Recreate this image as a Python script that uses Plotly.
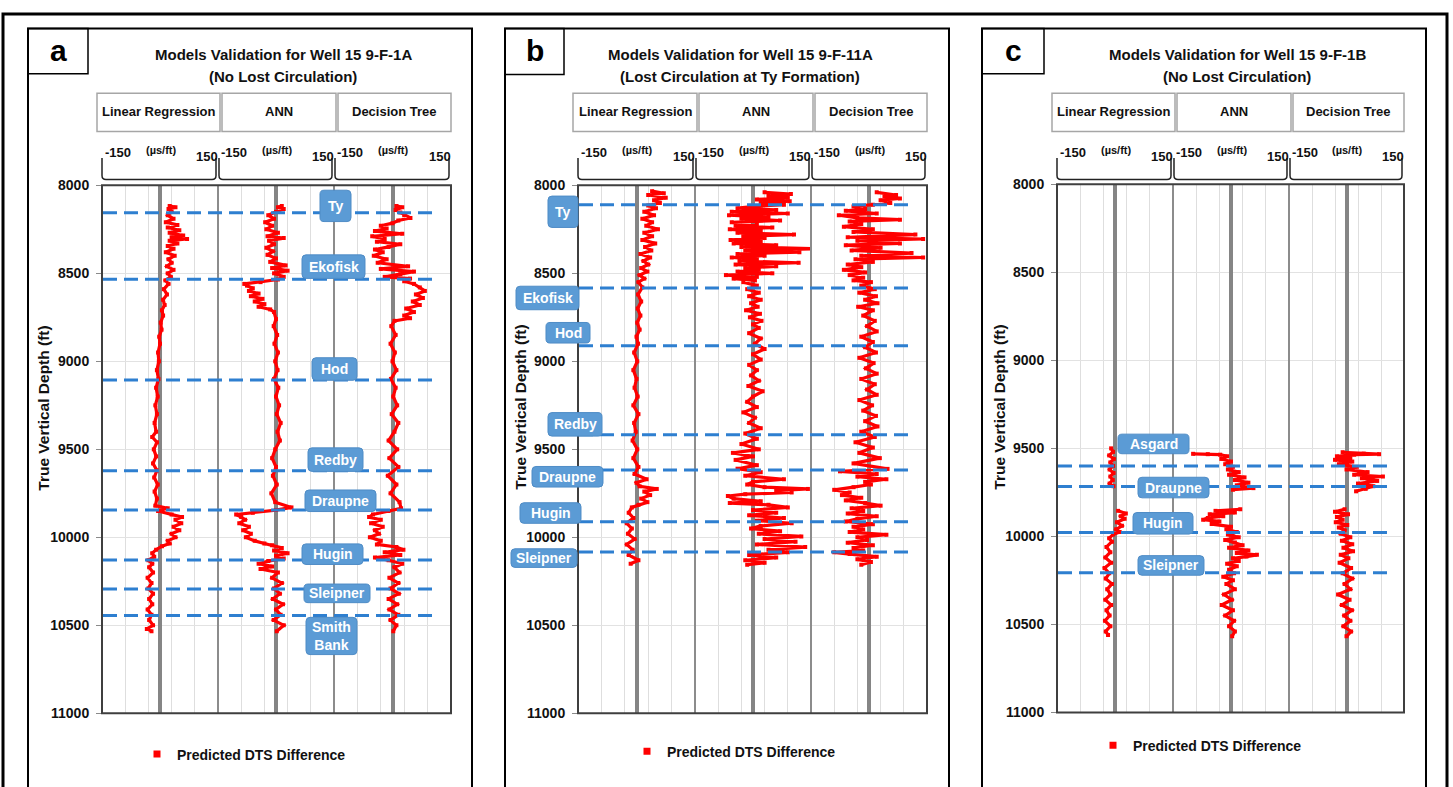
import plotly.graph_objects as go

# ---------------------------------------------------------------- data
MODELS = ["Linear Regression", "ANN", "Decision Tree"]
SCALE_MIN, SCALE_MAX = -150, 150
DEPTH_TICKS = [8000, 8500, 9000, 9500, 10000, 10500, 11000]
DEPTH_RANGE = [11000, 8000]
UNIT = "(µs/ft)"
LEGEND_NAME = "Predicted DTS Difference"
Y_TITLE = "True Vertical Depth (ft)"

TITLE_A = ["Models Validation for Well 15 9-F-1A", "(No Lost Circulation)"]
TITLE_B = ["Models Validation for Well 15 9-F-11A", "(Lost Circulation at Ty Formation)"]
TITLE_C = ["Models Validation for Well 15 9-F-1B", "(No Lost Circulation)"]

# formation tops (ft TVD)
TOPS_A_NAMES = ["Ty", "Ekofisk", "Hod", "Redby", "Draupne", "Hugin", "Sleipner", "Smith<br>Bank"]
TOPS_A_DEPTH = [8156, 8533, 9106, 9622, 9844, 10128, 10294, 10444]
TOPS_B_NAMES = ["Ty", "Ekofisk", "Hod", "Redby", "Draupne", "Hugin", "Sleipner"]
TOPS_B_DEPTH = [8111, 8583, 8911, 9417, 9617, 9911, 10083]
TOPS_C_NAMES = ["Asgard", "Draupne", "Hugin", "Sleipner"]
TOPS_C_DEPTH = [9600, 9717, 9978, 10206]

# predicted DTS difference, (depth ft, difference µs/ft); None breaks the log
A_LR = [(8117, 25), (8125, 40), (8135, 22), (8150, 30), (8170, 20), (8190, 35), (8210, 15),
        (8225, 45), (8240, 20), (8255, 50), (8270, 25), (8285, 60), (8295, 30), (8305, 70),
        (8315, 25), (8330, 45), (8345, 20), (8360, 35), (8380, 15), (8400, 38), (8420, 22),
        (8440, 30), (8460, 18), (8480, 35), (8500, 20), (8520, 28), (8540, 14), (8560, 22),
        (8590, 10), (8620, 18), (8650, 8), (8680, 12), (8710, 5), (8740, 8), (8780, 2),
        (8820, 4), (8860, -2), (8900, 0), (8950, -5), (9000, -3), (9050, -8), (9100, -4),
        (9150, -10), (9200, -6), (9250, -12), (9300, -8), (9350, -14), (9400, -10), (9430, -20),
        (9460, -8), (9500, -16), (9540, -10), (9580, -18), (9620, -8), (9660, -15), (9700, -6),
        (9740, -14), (9780, -8), (9820, -12), (9835, 20), (9850, -5), (9870, 30), (9885, 57),
        (9900, 40), (9920, 55), (9940, 35), (9960, 50), (9980, 30), (10000, 40), (10020, 20),
        (10035, 25), (10050, 5), (10070, -10), (10090, -20), (10110, -15), (10130, -30),
        (10150, -20), (10170, -28), (10200, -18), (10230, -32), (10260, -22), (10290, -30),
        (10320, -18), (10350, -28), (10380, -20), (10410, -32), (10440, -22), (10470, -28),
        (10500, -18), (10520, -34), (10533, -22)]
A_ANN = [(8117, 15), (8125, 5), (8135, 20), (8150, 0), (8170, -20), (8190, -5), (8210, -28),
         (8230, -10), (8250, -25), (8270, 5), (8290, -22), (8300, 20), (8315, -18), (8335, -5),
         (8355, -25), (8375, -8), (8395, -22), (8415, 0), (8435, -15), (8455, 25), (8470, -10),
         (8485, 30), (8500, -5), (8520, 20), (8535, 5), (8550, -40), (8560, -82), (8570, -75),
         (8585, -60), (8600, -70), (8615, -45), (8630, -65), (8645, -35), (8660, -55),
         (8675, -30), (8690, -45), (8705, -15), (8720, -5), (8760, 0), (8800, -6), (8850, 3),
         (8900, -4), (8950, 5), (9000, -2), (9050, 4), (9100, -5), (9150, 6), (9200, 0),
         (9250, 8), (9300, 2), (9350, 12), (9400, 4), (9450, 10), (9500, -2), (9550, -10),
         (9600, 0), (9650, -8), (9700, 2), (9750, -12), (9800, -2), (9830, 40), (9845, 0),
         (9860, -60), (9870, -103), (9885, -90), (9900, -80), (9920, -95), (9940, -70),
         (9960, -85), (9980, -65), (10000, -78), (10020, -55), (10035, -30), (10045, -10),
         (10060, 15), (10075, -5), (10090, 30), (10105, 0), (10120, 20), (10135, -20),
         (10150, -45), (10165, -10), (10180, -40), (10200, 5), (10230, -10), (10260, 15),
         (10290, -5), (10320, 10), (10350, -8), (10380, 18), (10410, 0), (10440, 12),
         (10470, -6), (10500, 20), (10533, 2)]
A_DT = [(8117, 10), (8125, 25), (8140, 8), (8155, 20), (8170, 30), (8185, 46), (8200, 15),
        (8215, 0), (8230, -30), (8245, -15), (8260, -45), (8275, 25), (8290, -52), (8305, -20),
        (8320, -40), (8335, 20), (8350, -10), (8365, -45), (8380, -25), (8400, -48), (8420, -15),
        (8440, -38), (8460, 40), (8475, -30), (8490, 55), (8505, 20), (8520, -20), (8530, 45),
        (8545, 30), (8560, 55), (8580, 70), (8600, 83), (8620, 60), (8640, 78), (8660, 52),
        (8680, 70), (8700, 35), (8720, 55), (8740, 30), (8755, 45), (8770, 5), (8800, -3),
        (8850, 8), (8900, -5), (8950, 6), (9000, 0), (9050, 10), (9100, -4), (9150, 8),
        (9200, 2), (9250, 12), (9300, -2), (9350, 15), (9400, 5), (9450, -10), (9500, 12),
        (9550, -8), (9600, 15), (9650, -12), (9700, 10), (9750, -5), (9800, 18), (9835, 22),
        (9850, -10), (9870, -50), (9885, -60), (9900, -30), (9920, -55), (9940, -25),
        (9960, -45), (9980, -35), (10000, -58), (10020, -30), (10040, -40), (10055, 10),
        (10070, 28), (10085, -20), (10100, 20), (10115, -45), (10130, -10), (10150, 25),
        (10170, 5), (10200, 18), (10230, -8), (10260, 15), (10290, -5), (10320, 16),
        (10350, -10), (10380, 12), (10410, -8), (10440, 15), (10470, -5), (10500, 10),
        (10533, 2)]

B_LR = [(8033, 40), (8045, 70), (8055, 30), (8070, 75), (8085, 45), (8100, 60), (8115, 30),
        (8130, 50), (8150, 20), (8170, 45), (8190, 15), (8210, 40), (8230, 25), (8250, 55),
        (8270, 20), (8290, 40), (8310, 15), (8330, 48), (8350, 22), (8370, 38), (8390, 10),
        (8410, 35), (8430, 18), (8450, 30), (8470, 12), (8490, 28), (8510, 8), (8530, 20),
        (8550, 5), (8580, 15), (8620, 4), (8660, 12), (8700, 3), (8740, 10), (8780, 2),
        (8820, 8), (8860, 0), (8900, 4), (8950, -6), (9000, 2), (9050, -8), (9100, 0),
        (9150, -5), (9200, 3), (9250, -8), (9300, 5), (9350, -6), (9400, -2), (9450, -10),
        (9500, 2), (9550, -8), (9600, 5), (9640, -5), (9670, 26), (9690, 0), (9710, 8),
        (9725, 52), (9740, 20), (9760, 35), (9780, 12), (9800, 28), (9815, 5), (9830, -12),
        (9860, -20), (9890, -8), (9920, -25), (9950, -12), (9980, -22), (10010, -5),
        (10040, -25), (10070, -10), (10100, -20), (10130, 5), (10150, -15)]
B_ANN = [(8040, 30), (8050, 98), (8060, 40), (8070, 90), (8080, 10), (8090, 95), (8100, 20),
         (8110, 80), (8120, 5), (8130, -40), (8140, 60), (8150, -55), (8160, 90), (8170, -62),
         (8180, 40), (8190, -30), (8200, 70), (8210, -55), (8220, 10), (8230, -45), (8240, 50),
         (8250, -60), (8260, 20), (8270, -40), (8280, 106), (8290, -25), (8300, 30),
         (8310, -58), (8320, 20), (8330, -50), (8340, 60), (8350, -30), (8360, 160),
         (8370, -20), (8380, 120), (8390, -40), (8400, 30), (8410, -55), (8420, 10),
         (8430, -35), (8440, 118), (8450, -45), (8460, 60), (8470, -20), (8480, 15),
         (8490, -40), (8500, 50), (8510, -70), (8520, 10), (8530, -50), (8540, 5), (8550, -25),
         (8570, 10), (8590, -15), (8610, 15), (8630, -10), (8650, 20), (8670, -5), (8690, 12),
         (8710, -18), (8730, 18), (8750, -8), (8770, 22), (8790, 0), (8810, 15), (8840, -10),
         (8870, 20), (8900, 5), (8930, 30), (8960, 0), (8990, 20), (9020, -10), (9050, 10),
         (9080, -5), (9110, 15), (9140, -12), (9170, 25), (9200, 0), (9230, -15), (9260, 10),
         (9290, -25), (9320, 5), (9350, -10), (9380, 20), (9410, -20), (9440, 10), (9470, -30),
         (9500, 15), (9520, -52), (9540, 0), (9560, -45), (9590, 10), (9610, -40), (9630, 20),
         (9650, -20), (9670, 80), (9685, 0), (9700, -15), (9715, 30), (9725, 142), (9735, 60),
         (9745, 100), (9755, -20), (9765, -65), (9780, -50), (9795, 20), (9805, -60),
         (9815, 40), (9830, 90), (9845, 0), (9860, 60), (9875, -10), (9890, 80), (9905, 10),
         (9920, 100), (9935, 20), (9950, -5), (9965, 70), (9980, 15), (9995, 125),
         (10010, 30), (10025, 110), (10040, 10), (10055, 135), (10070, 40), (10085, 90),
         (10100, -10), (10115, 60), (10130, -20), (10145, 30), (10155, -15)]
B_DT = [(8040, 20), (8055, 70), (8065, 40), (8075, 80), (8085, 30), (8100, 55), (8110, 10),
        (8120, -40), (8135, -10), (8145, -60), (8160, 20), (8170, -78), (8185, -30), (8195, 80),
        (8205, -50), (8220, -20), (8235, -65), (8250, 10), (8265, -40), (8280, 120),
        (8295, -55), (8305, 140), (8315, -30), (8330, 80), (8340, -60), (8355, 30), (8370, -45),
        (8385, 110), (8400, -20), (8410, 140), (8420, -35), (8435, 10), (8450, -55),
        (8465, -20), (8480, -65), (8495, -10), (8510, -50), (8525, -15), (8540, -40),
        (8550, 5), (8570, -20), (8590, 15), (8610, -25), (8630, 18), (8650, -10), (8670, 22),
        (8690, -28), (8710, 10), (8740, -15), (8770, 15), (8800, -5), (8830, 20), (8860, -20),
        (8890, 10), (8920, -10), (8950, 18), (8980, -25), (9010, 12), (9040, -8), (9070, 20),
        (9100, -20), (9130, 15), (9160, -5), (9190, 20), (9220, -25), (9250, 8), (9280, -15),
        (9310, 18), (9340, -10), (9370, 22), (9400, -20), (9430, 15), (9460, -35), (9490, 10),
        (9520, -25), (9550, 28), (9580, -40), (9611, 48), (9625, -75), (9640, 20), (9655, -30),
        (9670, 45), (9685, -10), (9700, 5), (9715, -40), (9730, -90), (9745, -50), (9760, -70),
        (9775, -20), (9790, -60), (9805, -10), (9820, 30), (9835, -45), (9850, -15),
        (9865, -55), (9880, 20), (9895, -30), (9910, -60), (9925, 10), (9940, -40),
        (9955, -15), (9970, -50), (9985, 45), (10000, -30), (10015, -5), (10030, -55),
        (10045, 10), (10060, -40), (10075, -15), (10085, -90), (10095, -50), (10110, 20),
        (10125, -30), (10140, 5), (10155, -20)]

C_LR = [(9500, -10), (9520, -5), (9540, -15), (9560, -3), (9580, -12), (9600, -5), (9620, -14),
        (9640, -4), (9660, -12), (9680, -6), (9700, -14), (9715, -4), (None, None),
        (9855, 8), (9870, 28), (9885, 15), (9900, 25), (9920, 5), (9940, 18), (9960, 3),
        (9975, 12), (9990, -5), (10010, -15), (10030, -8), (10060, -22), (10090, -12),
        (10120, -25), (10150, -10), (10180, -27), (10210, -15), (10240, -24), (10270, -8),
        (10300, -20), (10330, -12), (10360, -25), (10390, -10), (10420, -22), (10450, -14),
        (10480, -26), (10510, -12), (10540, -24), (10560, -18)]
C_ANN = [(9531, -98), (9533, -60), (9536, -28), (9545, -10), (9560, -25), (9575, 0), (9590, -15),
         (9605, 5), (9620, -8), (9635, 20), (9650, -5), (9665, 35), (9680, 10), (9695, 45),
         (9710, 15), (9726, 58), (9735, 5), (None, None),
         (9846, 24), (9855, -40), (9865, 10), (9875, -55), (9885, -20), (9895, -60),
         (9905, -72), (9915, -30), (9930, -50), (9945, 0), (9960, -12), (9975, 15), (9990, -8),
         (10005, 20), (10020, -15), (10035, 10), (10050, 30), (10065, -5), (10080, 45),
         (10095, 15), (10105, 67), (10115, 40), (10125, 5), (10140, 20), (10155, -10),
         (10170, 15), (10190, -5), (10210, 8), (10230, -20), (10250, 5), (10270, -12),
         (10300, 10), (10330, -18), (10360, 2), (10390, -24), (10420, 5), (10450, -15),
         (10480, 8), (10510, -5), (10540, 10), (10568, 3)]
C_DT = [(9522, -10), (9530, 45), (9533, 85), (9536, 20), (9545, -25), (9555, 10), (9565, -30),
        (9575, 15), (9590, -20), (9605, 27), (9620, 0), (9635, 55), (9650, 20), (9660, 95),
        (9670, 40), (9685, 80), (9700, 30), (9715, 70), (9730, 50), (9744, 25), (None, None),
        (9846, -5), (9860, -30), (9875, 4), (9890, -25), (9905, -10), (9920, -28), (9935, 2),
        (9950, -20), (9965, -5), (9985, -15), (10005, 10), (10025, -12), (10045, 15),
        (10065, -8), (10085, 17), (10105, -15), (10125, 5), (10150, -18), (10180, 12),
        (10210, -10), (10240, 15), (10270, -5), (10300, 10), (10330, -22), (10360, 8),
        (10390, -12), (10420, 14), (10450, -6), (10480, 10), (10510, -8), (10540, 12),
        (10568, 0)]

# ---------------------------------------------------------------- layout geometry (px)
W, H = 1453, 787
FONT = "Liberation Sans Narrow, Arial Narrow, Liberation Sans, Arial, sans-serif"
WIDE_FONT = "Liberation Sans, Arial, sans-serif"
INK = "#111111"
RED = "#ff0000"
TOP_BLUE = "#2e7fd0"
BOX_BLUE = "#5b9bd5"

PANELS = [
    dict(tag="a", title=TITLE_A, tops=(TOPS_A_NAMES, TOPS_A_DEPTH), logs=[A_LR, A_ANN, A_DT],
         frame=(28, 21, 472), tagbox=(28, 21, 88, 67), title_x=283,
         tracks=[102, 218, 334, 451], top=181, bottom=720, ytitle=(44, 409), legend=(137, 762),
         boxes=[(320, 186, 351, 218), (302, 252, 365, 276), (312, 357, 357, 380),
                (308, 449, 363, 473), (305, 492, 376, 514), (302, 547, 363, 568),
                (304, 588, 370, 607), (306, 622, 357, 660)]),
    dict(tag="b", title=TITLE_B, tops=(TOPS_B_NAMES, TOPS_B_DEPTH), logs=[B_LR, B_ANN, B_DT],
         frame=(505, 21, 949), tagbox=(505, 21, 564, 68), title_x=740,
         tracks=[578, 695, 811, 927], top=181, bottom=720, ytitle=(521, 408), legend=(627, 759),
         boxes=[(548, 192, 578, 224), (516, 284, 579, 308), (546, 321, 590, 342),
                (548, 413, 602, 437), (532, 468, 603, 489), (520, 505, 581, 526),
                (511, 552, 577, 571)]),
    dict(tag="c", title=TITLE_C, tops=(TOPS_C_NAMES, TOPS_C_DEPTH), logs=[C_LR, C_ANN, C_DT],
         frame=(982, 21, 1426), tagbox=(982, 21, 1044, 67), title_x=1237,
         tracks=[1057, 1173, 1289, 1404], top=180, bottom=719, ytitle=(1000, 408), legend=(1093, 753),
         boxes=[(1118, 435, 1189, 455), (1138, 479, 1209, 500), (1133, 515, 1193, 537),
                (1138, 559, 1204, 579)]),
]


def fx(x):
    return x / W


def fy(y):
    return 1 - y / H


def P(x, y):
    return f"{fx(x):.5f},{fy(y):.5f}"


def rounded_rect(x0, y0, x1, y1, r):
    return (f"M {P(x0 + r, y0)} L {P(x1 - r, y0)} Q {P(x1, y0)} {P(x1, y0 + r)} "
            f"L {P(x1, y1 - r)} Q {P(x1, y1)} {P(x1 - r, y1)} L {P(x0 + r, y1)} "
            f"Q {P(x0, y1)} {P(x0, y1 - r)} L {P(x0, y0 + r)} Q {P(x0, y0)} {P(x0 + r, y0)} Z")


def bracket(x0, x1, y0, y1, r=4):
    return (f"M {P(x0, y0)} L {P(x0, y1 - r)} Q {P(x0, y1)} {P(x0 + r, y1)} "
            f"L {P(x1 - r, y1)} Q {P(x1, y1)} {P(x1, y1 - r)} L {P(x1, y0)}")


def font(size, color=INK, family=FONT):
    return dict(family=family, size=size, color=color, weight="bold")


def label(text, x, y, size, color=INK, family=FONT, **kw):
    return dict(text=text, xref="paper", yref="paper", x=fx(x), y=fy(y), xanchor="center",
                yanchor="middle", showarrow=False, font=font(size, color, family), **kw)


def paper_rect(x0, y0, x1, y1, color, width, fill=None):
    return dict(type="rect", xref="paper", yref="paper", x0=fx(x0), x1=fx(x1), y0=fy(y1), y1=fy(y0),
                line=dict(color=color, width=width), fillcolor=fill or "rgba(0,0,0,0)", layer="above")


def paper_line(x0, y0, x1, y1, color, width):
    return dict(type="line", xref="paper", yref="paper", x0=fx(x0), x1=fx(x1), y0=fy(y0), y1=fy(y1),
                line=dict(color=color, width=width), layer="above")


fig = go.Figure()
shapes, annotations, layout = [], [], {}

# outer figure frame
shapes.append(paper_rect(3, 6, 1447, 830, "#000000", 3))

for p, panel in enumerate(PANELS):
    tr = panel["tracks"]
    top, bottom = panel["top"], panel["bottom"]
    fl, ft, fr = panel["frame"]

    # panel frame and tag box
    shapes.append(paper_rect(fl, ft, fr, 830, "#000000", 2))
    tx0, ty0, tx1, ty1 = panel["tagbox"]
    shapes.append(paper_rect(tx0, ty0, tx1, ty1, "#000000", 1.5))
    annotations.append(label(panel["tag"], (tx0 + tx1) / 2, (ty0 + ty1) / 2 - 1, 30, "#000000"))

    # two-line title
    annotations.append(label(panel["title"][0], panel["title_x"], 47, 15))
    annotations.append(label(panel["title"][1], panel["title_x"], 70, 15))

    for t in range(3):
        k = 3 * p + t + 1
        xa = "xaxis" if k == 1 else f"xaxis{k}"
        ya = "yaxis" if k == 1 else f"yaxis{k}"
        xr = "x" if k == 1 else f"x{k}"
        yr = "y" if k == 1 else f"y{k}"
        L, R = tr[t], tr[t + 1]

        layout[xa] = dict(domain=[fx(L), fx(R)], range=[SCALE_MIN, SCALE_MAX], anchor=yr,
                          tick0=SCALE_MIN, dtick=60, showgrid=True, gridcolor="#dedede", gridwidth=1,
                          zeroline=True, zerolinecolor="#858585", zerolinewidth=4,
                          showticklabels=False, ticks="", showline=False, fixedrange=True)
        layout[ya] = dict(domain=[fy(bottom), fy(top)], range=DEPTH_RANGE, anchor=xr,
                          tickvals=DEPTH_TICKS, ticktext=[str(v) for v in DEPTH_TICKS],
                          showgrid=True, gridcolor="#e2e2e2", gridwidth=1,
                          zeroline=False, showline=False, fixedrange=True,
                          showticklabels=(t == 0), ticks="outside" if t == 0 else "",
                          ticklen=5, tickcolor="#8a8a8a", tickfont=font(14),
                          ticklabelstandoff=4)

        # model header box
        hx0 = L - 5 if t == 0 else L + 4
        hx1 = R + 2 if t < 2 else R
        shapes.append(paper_rect(hx0, 87, hx1, 126, "#a6a6a6", 1.5))
        annotations.append(label(MODELS[t], (hx0 + hx1) / 2, 106, 13))

        # scale bracket and its labels
        shapes.append(dict(type="path", xref="paper", yref="paper",
                           path=bracket(L + 1 if t else L, R - 2, 153, 175),
                           line=dict(color="#222222", width=1.5)))
        zero_x = L + (R - L) * (0 - SCALE_MIN) / (SCALE_MAX - SCALE_MIN)
        annotations.append(label(str(SCALE_MIN), L + 16, 148, 13))
        annotations.append(label(str(SCALE_MAX), R - 11, 152, 13))
        annotations.append(label(UNIT, zero_x + 1, 145, 11))

        # predicted DTS difference log
        log = panel["logs"][t]
        depth = [d for d, _ in log]
        diff = [v for _, v in log]
        fig.add_trace(go.Scatter(x=diff, y=depth, xaxis=xr, yaxis=yr, mode="lines+markers",
                                 line=dict(color=RED, width=3.2),
                                 marker=dict(symbol="square", size=4, color=RED),
                                 showlegend=False, hoverinfo="x+y", connectgaps=False))

        # track separators
        if t > 0:
            shapes.append(paper_line(L, top, L, bottom, "#8c8c8c", 2))

    # plot border
    shapes.append(paper_rect(tr[0], top, tr[3], bottom, "#3f3f3f", 2))

    # formation tops: dashed lines then labels on top
    yref_first = "y" if p == 0 else f"y{3 * p + 1}"
    names, depths = panel["tops"]
    for d in depths:
        shapes.append(dict(type="line", xref="paper", yref=yref_first, x0=fx(tr[0] + 1), x1=fx(tr[3] - 12),
                           y0=d, y1=d, line=dict(color=TOP_BLUE, width=3, dash="14px,7px"), layer="above"))
    for name, box in zip(names, panel["boxes"]):
        bx0, by0, bx1, by1 = box
        shapes.append(dict(type="path", xref="paper", yref="paper", path=rounded_rect(bx0, by0, bx1, by1, 4),
                           fillcolor=BOX_BLUE, line=dict(color="#4f8cc6", width=1), layer="above"))
        annotations.append(label(name, (bx0 + bx1) / 2, (by0 + by1) / 2, 14, "#ffffff"))

    # depth axis title
    yx, yy = panel["ytitle"]
    annotations.append(label(Y_TITLE, yx, yy, 15.5, INK, WIDE_FONT, textangle=-90))

    # legend entry
    lname = "legend" if p == 0 else f"legend{p + 1}"
    lx, ly = panel["legend"]
    layout[lname] = dict(x=fx(lx), y=fy(ly), xanchor="left", yanchor="middle", bgcolor="rgba(0,0,0,0)",
                         font=font(14), borderwidth=0, itemwidth=30)
    fig.add_trace(go.Scatter(x=[None], y=[None], xaxis="x" if p == 0 else f"x{3 * p + 1}",
                             yaxis=yref_first, mode="markers", name=LEGEND_NAME, legend=lname,
                             marker=dict(symbol="square", size=7, color=RED), showlegend=True))

fig.update_layout(width=W, height=H, margin=dict(l=0, r=0, t=0, b=0), paper_bgcolor="#ffffff",
                  plot_bgcolor="#ffffff", shapes=shapes, annotations=annotations, **layout)

fig.write_html("out.html")
